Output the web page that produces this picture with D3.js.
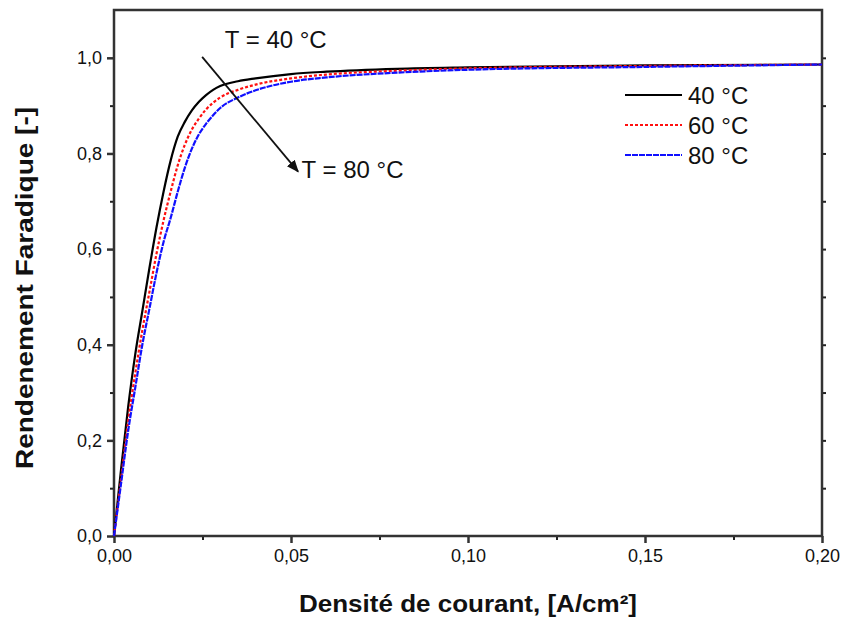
<!DOCTYPE html>
<html>
<head>
<meta charset="utf-8">
<script src="https://cdn.jsdelivr.net/npm/d3@7"></script>
<style>
  body { margin:0; background:#fff; }
  text { font-family: Arial, "Liberation Sans", sans-serif; fill:#111; }
</style>
</head>
<body>
<svg id="content" width="843" height="618"></svg>
<script>
var density = [0, 0.002, 0.004, 0.006, 0.008, 0.010, 0.012, 0.014, 0.016, 0.018, 0.020,
  0.022, 0.024, 0.026, 0.028, 0.030, 0.035, 0.040, 0.050, 0.060, 0.080, 0.100, 0.150, 0.200];

var eff_40 = [0, 0.14, 0.27, 0.38, 0.47, 0.56, 0.645, 0.72, 0.785, 0.835, 0.866,
  0.89, 0.908, 0.922, 0.933, 0.941, 0.951, 0.957, 0.966, 0.971, 0.977, 0.980, 0.984, 0.986];
var eff_60 = [0, 0.12, 0.24, 0.34, 0.43, 0.51, 0.59, 0.66, 0.72, 0.775, 0.818,
  0.85, 0.873, 0.892, 0.906, 0.917, 0.933, 0.944, 0.957, 0.965, 0.973, 0.978, 0.983, 0.986];
var eff_80 = [0, 0.11, 0.22, 0.31, 0.40, 0.475, 0.55, 0.615, 0.665, 0.72, 0.77,
  0.81, 0.84, 0.862, 0.88, 0.895, 0.917, 0.932, 0.950, 0.959, 0.969, 0.975, 0.981, 0.986];

var series_names = ["40 °C", "60 °C", "80 °C"];
var x_ticks = [0, 0.05, 0.10, 0.15, 0.20];
var y_ticks = [0, 0.2, 0.4, 0.6, 0.8, 1.0];

var margin = {left:114, right:21, top:10, bottom:82};
var width = 843, height = 618;

var x = d3.scaleLinear().domain([0, 0.2]).range([margin.left, width - margin.right]);
var y = d3.scaleLinear().domain([0, 1.1]).range([height - margin.bottom, margin.top]);

var svg = d3.select("#content");

var comma = function(f){ return function(d){ return d3.format(f)(d).replace(".", ","); }; };

// minor ticks
svg.append("g")
  .attr("transform", "translate(0," + y(0) + ")")
  .call(d3.axisBottom(x).tickValues(d3.range(0.025, 0.2, 0.05)).tickSize(4).tickFormat(""))
  .call(function(g){ g.select(".domain").remove(); })
  .selectAll("line").attr("stroke", "#222").attr("stroke-width", 2);
svg.append("g")
  .attr("transform", "translate(" + x(0) + ",0)")
  .call(d3.axisLeft(y).tickValues(d3.range(0.1, 1.1, 0.2)).tickSize(4).tickFormat(""))
  .call(function(g){ g.select(".domain").remove(); })
  .selectAll("line").attr("stroke", "#222").attr("stroke-width", 2);
svg.append("g")
  .attr("transform", "translate(" + x(0.2) + ",0)")
  .call(d3.axisRight(y).tickValues(d3.range(0.1, 1.05, 0.1)).tickSize(4).tickFormat(""))
  .call(function(g){ g.select(".domain").remove(); })
  .selectAll("line").attr("stroke", "#222").attr("stroke-width", 2);

// major axes
var xAxis = svg.append("g")
  .attr("transform", "translate(0," + y(0) + ")")
  .call(d3.axisBottom(x).tickValues(x_ticks).tickSize(7).tickPadding(6).tickFormat(comma(".2f")));
var yAxis = svg.append("g")
  .attr("transform", "translate(" + x(0) + ",0)")
  .call(d3.axisLeft(y).tickValues(y_ticks).tickSize(7).tickPadding(5).tickFormat(comma(".1f")));

[xAxis, yAxis].forEach(function(g){
  g.select(".domain").remove();
  g.selectAll("line").attr("stroke", "#333").attr("stroke-width", 2.5);
  g.selectAll("text").style("font-size", "18px").attr("fill", "#111");
});

// frame
svg.append("rect")
  .attr("x", x(0)).attr("y", y(1.1))
  .attr("width", x(0.2) - x(0)).attr("height", y(0) - y(1.1))
  .attr("fill", "none").attr("stroke", "#333").attr("stroke-width", 2.5);

// curves
var series = [
  {name:series_names[0], vals:eff_40, color:"#000000", dash:null},
  {name:series_names[1], vals:eff_60, color:"#ff1010", dash:"3,2"},
  {name:series_names[2], vals:eff_80, color:"#1010ff", dash:"6,1"}
];

var line = d3.line()
  .x(function(d){ return x(d[0]); })
  .y(function(d){ return y(d[1]); })
  .curve(d3.curveMonotoneX);

svg.selectAll(".curve")
  .data(series)
  .enter()
  .append("path")
  .attr("class", "curve")
  .attr("d", function(s){ return line(density.map(function(v, i){ return [v, s.vals[i]]; })); })
  .attr("fill", "none")
  .attr("stroke", function(s){ return s.color; })
  .attr("stroke-width", 2.2)
  .attr("stroke-dasharray", function(s){ return s.dash; });

// legend
var legend = svg.selectAll(".legend")
  .data(series)
  .enter()
  .append("g")
  .attr("class", "legend")
  .attr("transform", function(d, i){ return "translate(625," + (95 + i * 30) + ")"; });
legend.append("line")
  .attr("x1", 0).attr("x2", 57)
  .attr("stroke", function(d){ return d.color; })
  .attr("stroke-width", 2)
  .attr("stroke-dasharray", function(d){ return d.dash; });
legend.append("text")
  .attr("x", 63)
  .attr("dy", "0.36em")
  .style("font-size", "24px")
  .text(function(d){ return d.name; });

// arrow annotation
svg.append("defs").append("marker")
  .attr("id", "head")
  .attr("viewBox", "0 0 10 10")
  .attr("refX", 9).attr("refY", 5)
  .attr("markerWidth", 7).attr("markerHeight", 7)
  .attr("orient", "auto")
  .append("path").attr("d", "M0,1 L10,5 L0,9 Z").attr("fill", "#111");

svg.append("line")
  .attr("x1", x(0.0249)).attr("y1", y(1.002))
  .attr("x2", x(0.052)).attr("y2", y(0.762))
  .attr("stroke", "#111").attr("stroke-width", 1.8)
  .attr("marker-end", "url(#head)");

svg.append("text")
  .attr("x", x(0.0313)).attr("y", y(1.021))
  .style("font-size", "24px")
  .text("T = 40 °C");
svg.append("text")
  .attr("x", x(0.053)).attr("y", y(0.749))
  .style("font-size", "24px")
  .text("T = 80 °C");

// axis titles
svg.append("text")
  .attr("x", (x(0) + x(0.2)) / 2).attr("y", 612)
  .attr("text-anchor", "middle")
  .style("font-size", "24px").style("font-weight", "bold")
  .attr("textLength", 338).attr("lengthAdjust", "spacingAndGlyphs")
  .text("Densité de courant, [A/cm²]");
svg.append("text")
  .attr("transform", "translate(33,288) rotate(-90)")
  .attr("text-anchor", "middle")
  .style("font-size", "24px").style("font-weight", "bold")
  .attr("textLength", 362).attr("lengthAdjust", "spacingAndGlyphs")
  .text("Rendenement Faradique [-]");
</script>
</body>
</html>
